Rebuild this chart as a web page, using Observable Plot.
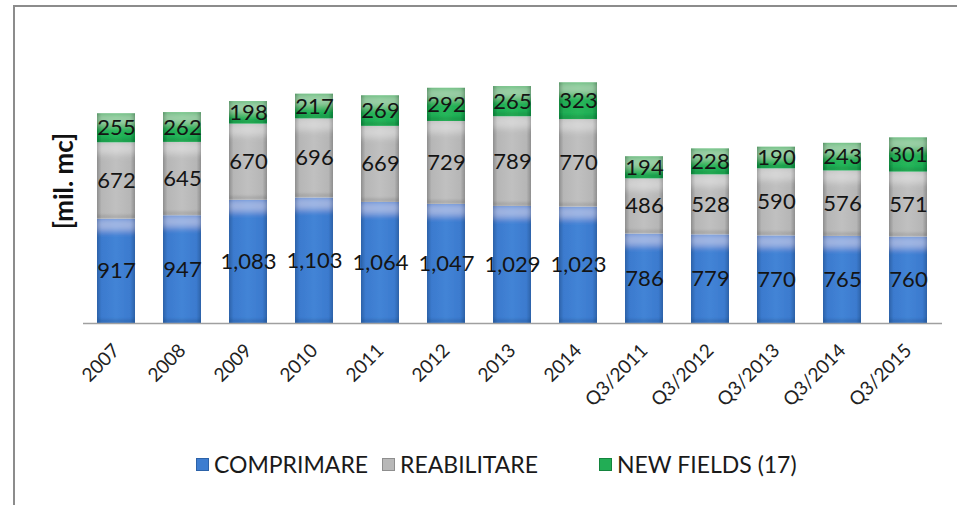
<!DOCTYPE html>
<html>
<head>
<meta charset="utf-8">
<script src="https://cdn.jsdelivr.net/npm/d3@7"></script>
<script src="https://cdn.jsdelivr.net/npm/@observablehq/plot@0.6"></script>
<style>
  html, body { margin: 0; padding: 0; background: #fff; }
  #wrap { position: relative; width: 957px; height: 505px; overflow: hidden; background: #fff; font-family: Lato, "Open Sans", sans-serif; }
  #frame { position: absolute; left: 13px; top: 5px; width: 1100px; height: 700px; border-left: 2px solid #8c8c8c; border-top: 2px solid #8c8c8c; box-sizing: border-box; }
  #chart { position: absolute; left: 0; top: 0; }
  #legend { position: absolute; left: 0; top: 450px; width: 957px; height: 30px; font-size: 23px; color: #1a1a1a; white-space: nowrap; }
  .item { position: absolute; top: 0; display: flex; align-items: center; height: 28px; }
  .sw { width: 13px; height: 13px; margin-right: 5px; box-sizing: border-box; }
</style>
</head>
<body>
<div id="wrap">
  <div id="frame"></div>
  <div id="chart"></div>
  <div id="legend"></div>
</div>
<script>
const categories = ["2007","2008","2009","2010","2011","2012","2013","2014","Q3/2011","Q3/2012","Q3/2013","Q3/2014","Q3/2015"];
const seriesNames = ["COMPRIMARE","REABILITARE","NEW FIELDS (17)"];
const comprimare = [917,947,1083,1103,1064,1047,1029,1023,786,779,770,765,760];
const reabilitare = [672,645,670,696,669,729,789,770,486,528,590,576,571];
const newFields = [255,262,198,217,269,292,265,323,194,228,190,243,301];
const yLabel = "[mil. mc]";

const seriesValues = [comprimare, reabilitare, newFields];
const data = [];
seriesNames.forEach((s, si) => {
  categories.forEach((c, ci) => data.push({cat: c, series: s, value: seriesValues[si][ci]}));
});

const fills = ["url(#gBlue)", "url(#gGray)", "url(#gGreen)"];
const fmt = d3.format(",");
const FONT = "Lato, 'Open Sans', sans-serif";

const plot = Plot.plot({
  width: 957,
  height: 440,
  marginLeft: 83,
  marginRight: 15,
  marginTop: 50,
  marginBottom: 117,
  style: {background: "transparent", fontFamily: FONT},
  x: {domain: categories, paddingInner: 0.42, paddingOuter: 0.21},
  y: {domain: [0, 2400], axis: null},
  color: {domain: seriesNames, range: fills},
  marks: [
    Plot.barY(data, Plot.stackY({x: "cat", y: "value", fill: "series", order: seriesNames})),
    Plot.ruleY([0], {stroke: "#a0a0a0", strokeWidth: 1.5}),
    Plot.text(data, Plot.stackY({x: "cat", y: "value", z: "series", order: seriesNames, text: d => fmt(d.value), fill: "#141414", fontSize: 22, fontFamily: FONT})),
    Plot.axisX({tickSize: 0, tickRotate: -45, tickPadding: 24, fontSize: 19, fill: "#222", label: null, fontFamily: FONT}),
    Plot.text([yLabel], {frameAnchor: "left", textAnchor: "middle", rotate: -90, dx: -19, dy: -6, fontSize: 26, fontWeight: "bold", fill: "#111", fontFamily: FONT})
  ]
});

const defsHtml = `
<linearGradient id="gBlue" x1="0" x2="1" y1="0" y2="0">
  <stop offset="0" stop-color="#2c62a8"/><stop offset="0.12" stop-color="#3b7ace"/>
  <stop offset="0.5" stop-color="#4384d6"/><stop offset="0.88" stop-color="#3b7ace"/><stop offset="1" stop-color="#2c62a8"/>
</linearGradient>
<linearGradient id="gGray" x1="0" x2="1" y1="0" y2="0">
  <stop offset="0" stop-color="#8e8e8e"/><stop offset="0.12" stop-color="#b6b6b6"/>
  <stop offset="0.5" stop-color="#c0c0c0"/><stop offset="0.88" stop-color="#b6b6b6"/><stop offset="1" stop-color="#8e8e8e"/>
</linearGradient>
<linearGradient id="gGreen" x1="0" x2="1" y1="0" y2="0">
  <stop offset="0" stop-color="#14843e"/><stop offset="0.12" stop-color="#21ac54"/>
  <stop offset="0.5" stop-color="#27b75b"/><stop offset="0.88" stop-color="#21ac54"/><stop offset="1" stop-color="#14843e"/>
</linearGradient>
<filter id="bevel" x="-10%" y="-10%" width="120%" height="120%">
  <feOffset in="SourceAlpha" dy="12" result="down"/>
  <feComposite in="SourceAlpha" in2="down" operator="out" result="topStrip"/>
  <feGaussianBlur in="topStrip" stdDeviation="3" result="topBlur"/>
  <feComposite in="topBlur" in2="SourceAlpha" operator="in" result="topClip"/>
  <feFlood flood-color="#ffffff" flood-opacity="0.32"/>
  <feComposite in2="topClip" operator="in" result="topHL"/>
  <feOffset in="SourceAlpha" dy="-4" result="up"/>
  <feComposite in="SourceAlpha" in2="up" operator="out" result="botStrip"/>
  <feGaussianBlur in="botStrip" stdDeviation="1" result="botBlur"/>
  <feComposite in="botBlur" in2="SourceAlpha" operator="in" result="botClip"/>
  <feFlood flood-color="#000000" flood-opacity="0.2"/>
  <feComposite in2="botClip" operator="in" result="botSH"/>
  <feMerge><feMergeNode in="SourceGraphic"/><feMergeNode in="topHL"/><feMergeNode in="botSH"/></feMerge>
</filter>`;
const defs = d3.select(plot).insert("defs", ":first-child");
defs.html(defsHtml);
d3.select(plot).selectAll('g[aria-label="bar"] rect').attr("filter", "url(#bevel)");

document.getElementById("chart").appendChild(plot);

const legendLeft = [196, 382, 599];
const swatchColors = ["#3d7dd0", "#b8b8b8", "#22ad55"];
const swatchBorders = ["#2c62a8", "#8e8e8e", "#14843e"];
const legend = d3.select("#legend");
seriesNames.forEach((s, i) => {
  const it = legend.append("div").attr("class", "item").style("left", legendLeft[i] + "px");
  it.append("div").attr("class", "sw")
    .style("background", `linear-gradient(${swatchColors[i]}, ${swatchColors[i]})`)
    .style("border", "1px solid " + swatchBorders[i]);
  it.append("span").text(s);
});
</script>
</body>
</html>
